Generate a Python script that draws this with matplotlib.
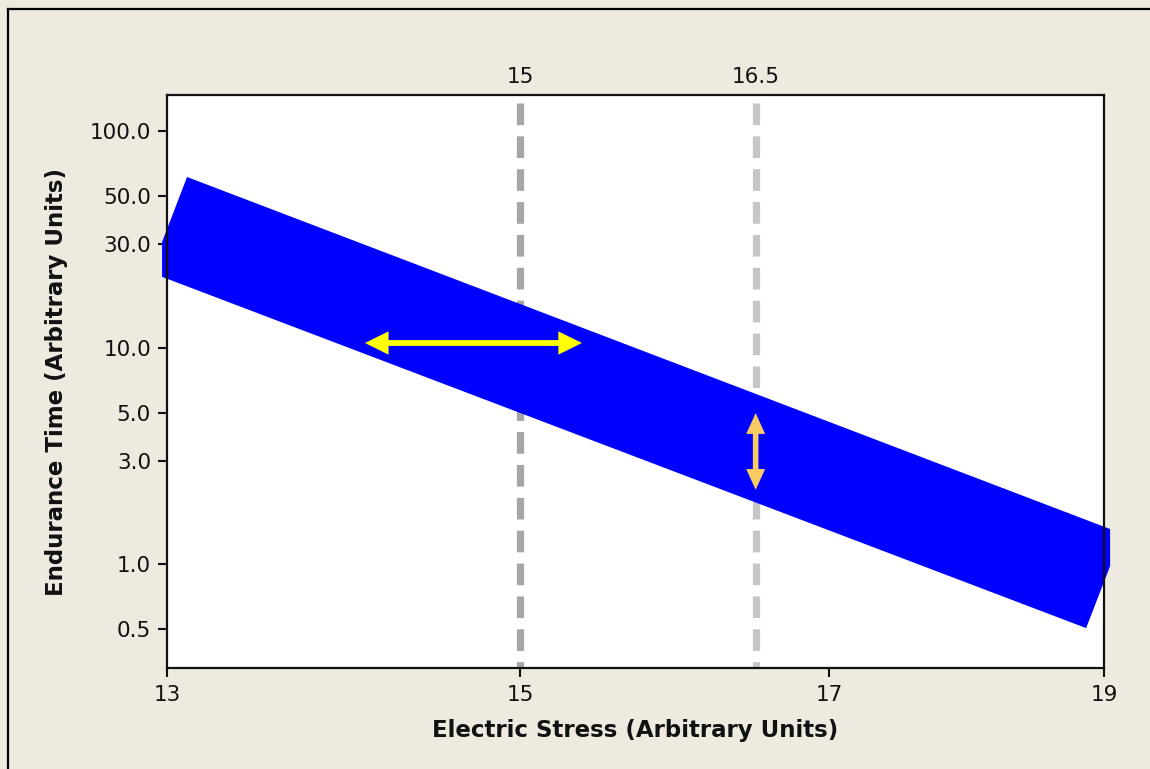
import matplotlib
matplotlib.use("Agg")
import matplotlib.pyplot as plt
from matplotlib.lines import Line2D
from matplotlib.patches import FancyArrowPatch
from matplotlib.ticker import FixedLocator, FixedFormatter, NullLocator
import matplotlib.transforms as mtransforms

# Scatter band of endurance time vs. electric stress (log-log)
band_stress = [13.106, 19.047, 19.047, 18.863, 12.974, 12.974]
band_time = [61.3, 1.451, 0.979, 0.506, 21.2, 30.7]

# Reference stress levels marked with dashed lines
ref_stress = [15.0, 16.5]
ref_labels = ["15", "16.5"]
ref_colors = ["#A6A6A6", "#C6C6C6"]
ref_top = 134.7

# Horizontal spread (stress) and vertical spread (time) arrows
h_arrow_stress = [14.085, 15.379]
h_arrow_time = 10.49
v_arrow_stress = 16.5
v_arrow_time = [4.98, 2.20]

x_ticks = [13, 15, 17, 19]
y_ticks = [0.5, 1.0, 3.0, 5.0, 10.0, 30.0, 50.0, 100.0]
y_tick_labels = ["0.5", "1.0", "3.0", "5.0", "10.0", "30.0", "50.0", "100.0"]

bg = "#EEEAE0"
fig = plt.figure(figsize=(11.5, 7.69), dpi=100, facecolor=bg)
ax = fig.add_axes([167 / 1150, 1 - 668 / 769, (1104 - 167) / 1150, (668 - 95) / 769])
ax.set_facecolor("white")

ax.set_xscale("log")
ax.set_yscale("log")
ax.set_xlim(13, 19)
ax.set_ylim(0.331, 146.6)

# reference dashed lines (under the band)
for xs, c in zip(ref_stress, ref_colors):
    ax.plot([xs, xs], [ref_top, 0.331], color=c, lw=5.2, dashes=(3.0, 1.55),
            solid_capstyle="butt", dash_capstyle="butt", zorder=1)

ax.fill(band_stress, band_time, color="#0000FF", lw=0, clip_on=False, zorder=2)


def double_arrow(p0, p1, color, shaft_lw, head_len, head_w):
    """Two-headed arrow: stroked shaft plus two filled, sharp heads."""
    ax.add_patch(FancyArrowPatch(p0, p1, arrowstyle="-", color=color, lw=shaft_lw,
                                 shrinkA=head_len * 20 * 0.7, shrinkB=head_len * 20 * 0.7,
                                 capstyle="butt", zorder=4))
    mid = ((p0[0] + p1[0]) / 2, (p0[1] + p1[1]) / 2)
    style = f"-|>,head_length={head_len},head_width={head_w}"
    for tip in (p0, p1):
        ax.add_patch(FancyArrowPatch(mid, tip, arrowstyle=style, mutation_scale=20,
                                     color=color, lw=0, shrinkA=0, shrinkB=0, zorder=5))


double_arrow((h_arrow_stress[0], h_arrow_time), (h_arrow_stress[1], h_arrow_time),
             "#FFFF00", 4.2, 0.85, 0.42)
double_arrow((v_arrow_stress, v_arrow_time[0]), (v_arrow_stress, v_arrow_time[1]),
             "#F8CA62", 4.0, 0.75, 0.34)

# labels for reference lines above the frame
trans = mtransforms.blended_transform_factory(ax.transData, ax.transAxes)
offset = mtransforms.ScaledTranslation(0, 6 / 72, fig.dpi_scale_trans)
for xs, lab in zip(ref_stress, ref_labels):
    ax.text(xs, 1.0, lab, transform=trans + offset, ha="center", va="bottom",
            fontsize=15.5, color="#111111")

ax.xaxis.set_major_locator(FixedLocator(x_ticks))
ax.xaxis.set_major_formatter(FixedFormatter([str(t) for t in x_ticks]))
ax.xaxis.set_minor_locator(NullLocator())
ax.yaxis.set_major_locator(FixedLocator(y_ticks))
ax.yaxis.set_major_formatter(FixedFormatter(y_tick_labels))
ax.yaxis.set_minor_locator(NullLocator())

ax.tick_params(axis="both", direction="out", length=6.5, width=1.5, labelsize=15.5,
               colors="#111111", pad=5)
ax.tick_params(axis="x", pad=6)
for sp in ax.spines.values():
    sp.set_linewidth(1.6)
    sp.set_color("#111111")

ax.set_xlabel("Electric Stress (Arbitrary Units)", fontsize=16.5, fontweight="bold",
              color="#111111")
ax.set_ylabel("Endurance Time (Arbitrary Units)", fontsize=16.5, fontweight="bold",
              color="#111111")
ax.xaxis.set_label_coords(0.5, -(730 - 668) / (668 - 95))
ax.yaxis.set_label_coords(-(167 - 57) / (1104 - 167), 0.5)
ax.xaxis.label.set_va("center")
ax.yaxis.label.set_va("center")

# outer frame: left and top edges
frame_x = 7.5 / 1150
frame_y = 1 - 8.5 / 769
fig.lines.append(Line2D([frame_x, frame_x], [0, frame_y], transform=fig.transFigure,
                        color="black", lw=1.6, solid_capstyle="projecting"))
fig.lines.append(Line2D([frame_x, 1.01], [frame_y, frame_y], transform=fig.transFigure,
                        color="black", lw=1.6, solid_capstyle="projecting"))

fig.savefig("out.png", dpi=100, facecolor=bg)
